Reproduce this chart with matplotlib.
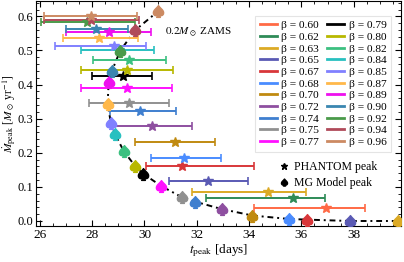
import numpy as np
import matplotlib
matplotlib.use("Agg")
import matplotlib.pyplot as plt
from matplotlib.lines import Line2D
from matplotlib.ticker import MultipleLocator, AutoMinorLocator

plt.rcParams['font.family'] = 'serif'
plt.rcParams['font.serif'] = ['Liberation Serif', 'DejaVu Serif']
plt.rcParams['mathtext.fontset'] = 'stix'

# beta values and colours
betas = ['0.60', '0.62', '0.63', '0.65', '0.67', '0.68', '0.70', '0.72', '0.74', '0.75', '0.77',
         '0.79', '0.80', '0.82', '0.84', '0.85', '0.87', '0.89', '0.90', '0.92', '0.94', '0.96']
colors = ['#ff6a45', '#2e8b57', '#dcaa25', '#5a5ab4', '#d8373a', '#4a8cff', '#c08a10', '#8e4fa0',
          '#3f7fcf', '#909090', '#ff10ff', '#000000', '#b8b800', '#3cc080', '#28c0c0', '#8080ff',
          '#ffb84a', '#ee10ee', '#3a86b0', '#4a9a4a', '#b04a5a', '#cc8a62']

# PHANTOM peak: time range (lo, hi), peak time, peak rate
t_lo = [34.17, 32.37, 31.82, 30.93, 30.07, 30.26, 29.65, 28.74, 28.69, 27.88, 27.58,
        28.01, 27.58, 28.04, 27.58, 26.58, 26.90, 26.99, 26.99, 26.06, 26.15, 26.15]
t_pk = [36.96, 35.68, 34.74, 32.43, 31.43, 31.50, 31.17, 30.27, 29.81, 29.42, 29.33,
        29.17, 29.33, 29.42, 29.04, 28.85, 28.27, 28.65, 28.14, 27.81, 27.96, 27.96]
t_hi = [38.45, 36.91, 36.19, 33.97, 34.17, 32.92, 32.69, 31.83, 31.22, 30.93, 31.06,
        30.30, 31.09, 30.81, 30.38, 30.07, 29.74, 30.26, 29.36, 29.62, 29.80, 29.73]
mdot_pk = [0.038, 0.067, 0.084, 0.116, 0.160, 0.184, 0.231, 0.279, 0.323, 0.346, 0.389,
           0.426, 0.444, 0.473, 0.502, 0.514, 0.537, 0.553, 0.563, 0.583, 0.590, 0.600]

# MG model peaks (first two fall off the right edge)
betas_mg = betas[2:]
t_mg = [39.68, 37.85, 36.22, 35.51, 34.13, 32.95, 31.92, 31.45, 30.65, 29.96,
        29.65, 29.20, 28.87, 28.72, 28.59, 28.63, 28.76, 29.07, 29.65, 30.52]
mdot_mg = [0.000, 0.000, 0.004, 0.006, 0.016, 0.035, 0.057, 0.069, 0.102, 0.138,
           0.160, 0.206, 0.255, 0.286, 0.343, 0.407, 0.441, 0.499, 0.560, 0.615]
colors_mg = colors[2:]

fig = plt.figure(figsize=(4.04, 2.62), dpi=100)
ax = fig.add_axes([0.089, 0.137, 0.903, 0.859])

ax.plot(t_mg, mdot_mg, color='k', lw=1.4, ls=(0, (3, 2, 1, 2)), zorder=2)

for i in range(len(betas)):
    err = [[t_pk[i] - t_lo[i]], [t_hi[i] - t_pk[i]]]
    ax.errorbar([t_pk[i]], [mdot_pk[i]], xerr=err, fmt='none', ecolor=colors[i],
                elinewidth=1.4, capsize=3, capthick=1.2, zorder=3)
    ax.plot(t_pk[i], mdot_pk[i], marker='*', ms=7.5, color=colors[i], ls='none', zorder=4)

for i in range(len(betas_mg)):
    ax.plot(t_mg[i], mdot_mg[i], marker=r'$\spadesuit$', ms=8.5, color=colors_mg[i],
            ls='none', zorder=5)

ax.text(30.8, 0.552, r'$0.2M_\odot$ ZAMS', fontsize=8, va='center')

ax.set_xlim(25.85, 39.8)
ax.set_ylim(-0.015, 0.645)
ax.xaxis.set_major_locator(MultipleLocator(2))
ax.xaxis.set_minor_locator(AutoMinorLocator(4))
ax.yaxis.set_major_locator(MultipleLocator(0.1))
ax.yaxis.set_minor_locator(AutoMinorLocator(5))
ax.tick_params(which='both', direction='in', top=True, right=True, labelsize=9.5, pad=2)
ax.tick_params(axis='y', labelsize=9)
ax.tick_params(which='major', length=4)
ax.tick_params(which='minor', length=2)
ax.set_yticks(np.arange(0, 0.61, 0.1))
ax.set_yticklabels(['0.0', '0.1', '0.2', '0.3', '0.4', '0.5', '0.6'])
ax.set_xlabel(r'$t_{\rm peak}$ [days]', fontsize=9.5, labelpad=1)
fig.text(0.0225, 0.565, r'$\dot{M}_{\rm peak}$ [$M_\odot$ yr$^{-1}$]', fontsize=8.3,
         rotation=90, ha='center', va='center')

handles = [Line2D([0], [0], color=c, lw=2) for c in colors]
labels = ['β = %s' % b for b in betas]
leg1 = ax.legend(handles, labels, ncol=2, loc='upper right', bbox_to_anchor=(0.99, 0.96),
                 fontsize=8.2, labelspacing=0.15, handlelength=1.5, handletextpad=0.4,
                 columnspacing=0.7, borderpad=0.4, frameon=True, fancybox=False,
                 edgecolor='#e4e4e4', framealpha=1)
leg1.get_frame().set_linewidth(0.8)
ax.add_artist(leg1)

h2 = [Line2D([0], [0], marker='*', color='k', ls='none', ms=5),
      Line2D([0], [0], marker=r'$\spadesuit$', color='k', ls='none', ms=5)]
ax.legend(h2, ['PHANTOM peak', 'MG Model peak'], loc='upper left',
          bbox_to_anchor=(0.645, 0.32), fontsize=8.5, frameon=False, handlelength=1,
          handletextpad=0.3, labelspacing=0.35, borderpad=0.1)

fig.savefig('out.png', dpi=100)
